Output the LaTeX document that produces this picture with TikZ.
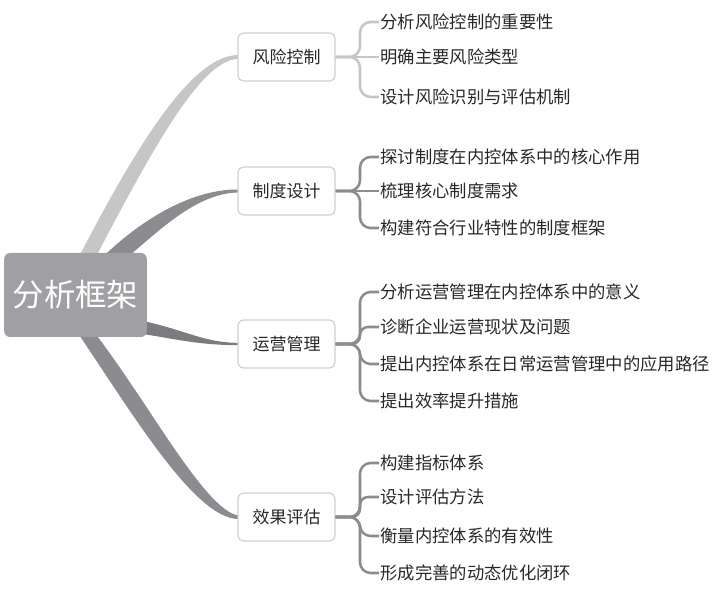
\documentclass[tikz,border=0pt]{standalone}
\usepackage{fontspec}
\usepackage{xcolor}
\usepackage{tikz}
\usetikzlibrary{calc,backgrounds}
\newfontfamily\cjk{Noto Sans CJK SC}
\definecolor{figroot}{RGB}{160,160,164}
\definecolor{figlight}{RGB}{198,198,198}
\definecolor{figmid}{RGB}{140,140,144}
\definecolor{figdark}{RGB}{124,124,128}
\definecolor{figedge}{RGB}{208,208,208}
\definecolor{figtext}{RGB}{40,40,40}
\tikzset{
  rootbox/.style ={fill=figroot, rounded corners=4.5pt, minimum width=107pt, minimum height=63pt,
                   text=white, font=\cjk\fontsize{23.5pt}{26pt}\selectfont, inner sep=0pt},
  topic/.style   ={draw=figedge, fill=white, line width=0.9pt, rounded corners=4.5pt,
                   minimum width=72.75pt, minimum height=36pt, text=figtext,
                   font=\cjk\fontsize{12.75pt}{15pt}\selectfont, inner sep=0pt},
  leaf/.style    ={anchor=west, inner sep=1pt, text=figtext, font=\cjk\fontsize{13pt}{15pt}\selectfont},
  twig/.style    ={line width=1.9pt, rounded corners=8pt},
  twigs/.style   ={line width=1.9pt, rounded corners=6pt},
}
\begin{document}
\begin{tikzpicture}[x=0.75pt,y=-0.75pt]
  \useasboundingbox (0,0) rectangle (726,591);
  \node[rootbox] (frame) at (75.5,295) {分析框架};
  \node[topic] (risk) at (286.5,57) {风险控制};
  \node[topic] (rules) at (286.5,191) {制度设计};
  \node[topic] (ops) at (286.5,344) {运营管理};
  \node[topic] (eval) at (286.5,517) {效果评估};
  % leaves
  \node[leaf] (risk1) at (379,22) {分析风险控制的重要性};
  \node[leaf] (risk2) at (379,57) {明确主要风险类型};
  \node[leaf] (risk3) at (379,97) {设计风险识别与评估机制};
  \node[leaf] (rules1) at (379,157) {探讨制度在内控体系中的核心作用};
  \node[leaf] (rules2) at (379,191) {梳理核心制度需求};
  \node[leaf] (rules3) at (379,228) {构建符合行业特性的制度框架};
  \node[leaf] (ops1) at (379,292) {分析运营管理在内控体系中的意义};
  \node[leaf] (ops2) at (379,327) {诊断企业运营现状及问题};
  \node[leaf] (ops3) at (379,364) {提出内控体系在日常运营管理中的应用路径};
  \node[leaf] (ops4) at (379,401) {提出效率提升措施};
  \node[leaf] (eval1) at (379,463) {构建指标体系};
  \node[leaf] (eval2) at (379,497) {设计评估方法};
  \node[leaf] (eval3) at (379,536) {衡量内控体系的有效性};
  \node[leaf] (eval4) at (379,573) {形成完善的动态优化闭环};
  % main branches, tapered
  \begin{scope}[on background layer]
  \fill[figlight] ($(frame.north)+(3.5,4)$) .. controls (143,133) and (195,55) .. ($(risk.west)+(1,-2)$)
    -- ($(risk.west)+(1,2)$) .. controls (203,59) and (157,140) .. ($(frame.north)+(20.5,4)$) -- cycle;
  \fill[figmid] ($(frame.north)+(27.5,4)$) .. controls (143,218) and (193,189) .. ($(rules.west)+(1,-1.5)$)
    -- ($(rules.west)+(1,1.5)$) .. controls (197,193) and (160,230) .. ($(frame.north)+(52.5,4)$) -- cycle;
  \fill[figdark] ($(frame.east)+(-4,26)$) .. controls (185,330) and (205,343) .. ($(ops.west)+(1,-1.2)$)
    -- ($(ops.west)+(1,1.2)$) .. controls (200,345) and (180,340) .. ($(frame.east)+(-4,39)$) -- cycle;
  \fill[figmid] ($(frame.south)+(2.5,-4)$) .. controls (132,413) and (195,519) .. ($(eval.west)+(1,2)$)
    -- ($(eval.west)+(1,-1.5)$) .. controls (205,510) and (150,405) .. ($(frame.south)+(19.5,-4)$) -- cycle;
  \end{scope}
  % leaf connectors
  \draw[twig, figlight] (risk.east) -- (360,57) |- (risk1.west);
  \draw[twig, figlight] (risk.east) -- (risk2.west);
  \draw[twig, figlight] (risk.east) -- (360,57) |- (risk3.west);
  \draw[twig, figmid] (rules.east) -- (360,191) |- (rules1.west);
  \draw[twig, figmid] (rules.east) -- (rules2.west);
  \draw[twig, figmid] (rules.east) -- (360,191) |- (rules3.west);
  \draw[twig, figmid] (ops.east) -- (360,344) |- (ops1.west);
  \draw[twigs, figmid] (ops.east) -- (360,344) |- (ops2.west);
  \draw[twig, figmid] (ops.east) -- (360,344) |- (ops3.west);
  \draw[twig, figmid] (ops.east) -- (360,344) |- (ops4.west);
  \draw[twig, figmid] (eval.east) -- (360,517) |- (eval1.west);
  \draw[twigs, figmid] (eval.east) -- (360,517) |- (eval2.west);
  \draw[twig, figmid] (eval.east) -- (360,517) |- (eval3.west);
  \draw[twig, figmid] (eval.east) -- (360,517) |- (eval4.west);
\end{tikzpicture}
\end{document}
